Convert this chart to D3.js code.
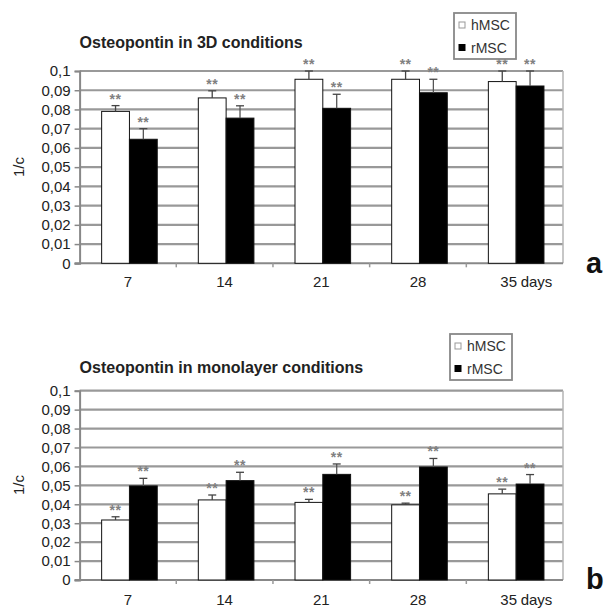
<!DOCTYPE html>
<meta charset="utf-8" />
<title>Osteopontin</title>
<style>
  body { margin: 0; background: #fff; }
  svg { display: block; font-family: "Liberation Sans", Arial, sans-serif; }
  .grid line { stroke: #999; stroke-width: 2.2px; }
  .tick-label { font-size: 15px; fill: #222; }
  .chart-title { font-size: 16px; font-weight: bold; fill: #222; }
  .stars { font-size: 14px; font-weight: bold; fill: #808080; letter-spacing: 0.5px; }
  .legend text { font-size: 14px; fill: #333; }
  .panel-letter { font-size: 29px; font-weight: bold; fill: #111; }
</style>
<body>
<svg width="606" height="608"></svg>
<script src="https://d3js.org/d3.v7.min.js"></script>
<script>
  const days = ["7", "14", "21", "28", "35"];
  const seriesNames = ["hMSC", "rMSC"];
  const yTicks = [0, 0.01, 0.02, 0.03, 0.04, 0.05, 0.06, 0.07, 0.08, 0.09, 0.1];

  // Osteopontin, 3D conditions (mean and upper error)
  const hMSC3D = [0.079, 0.086, 0.0957, 0.0957, 0.0945];
  const hMSC3DErr = [0.003, 0.0037, 0.0043, 0.0043, 0.0055];
  const rMSC3D = [0.0645, 0.0755, 0.0806, 0.0887, 0.0922];
  const rMSC3DErr = [0.0055, 0.0064, 0.0073, 0.007, 0.0078];

  // Osteopontin, monolayer conditions
  const hMSCMono = [0.0317, 0.0423, 0.041, 0.0397, 0.0455];
  const hMSCMonoErr = [0.0017, 0.0026, 0.0016, 0.0009, 0.0025];
  const rMSCMono = [0.0497, 0.0525, 0.0558, 0.0597, 0.0507];
  const rMSCMonoErr = [0.004, 0.0044, 0.0055, 0.0045, 0.005];

  const svg = d3.select("svg");
  const fmt = d3.formatLocale({ decimal: ",", thousands: ".", grouping: [3], currency: ["", ""] }).format(".2~f");

  const left = 79.6, right = 563;

  function drawChart(opt) {
    const g = svg.append("g");
    const y = d3.scaleLinear().domain([0, 0.1]).range([opt.bottom, opt.top]);
    const x = d3.scaleBand().domain(days).range([left, right]);
    const barW = 27.8;

    // gridlines
    g.append("g").attr("class", "grid")
      .selectAll("line").data(yTicks.slice(1)).join("line")
      .attr("x1", left).attr("x2", right)
      .attr("y1", d => y(d)).attr("y2", d => y(d));

    // right border of plot
    g.append("line")
      .attr("x1", right).attr("x2", right).attr("y1", y(0.1)).attr("y2", y(0))
      .attr("stroke", "#b5b5b5").attr("stroke-width", 1.5);

    // y axis
    const yAxis = d3.axisLeft(y).tickValues(yTicks).tickFormat(fmt).tickSize(5).tickPadding(4);
    const ya = g.append("g").attr("transform", `translate(${left},0)`).call(yAxis);
    ya.select(".domain").attr("stroke", "#888").attr("stroke-width", 2);
    ya.selectAll(".tick line").attr("stroke", "#888").attr("stroke-width", 1.5);
    ya.selectAll(".tick text").attr("class", "tick-label").attr("font-size", null).attr("font-family", null);

    // x axis line and category separators
    g.append("line")
      .attr("x1", left - 5).attr("x2", right).attr("y1", y(0)).attr("y2", y(0))
      .attr("stroke", "#888").attr("stroke-width", 2);
    g.selectAll(".sep").data(days.slice(1)).join("line")
      .attr("x1", d => x(d)).attr("x2", d => x(d))
      .attr("y1", y(0)).attr("y2", y(0) + 4)
      .attr("stroke", "#999").attr("stroke-width", 1.5);

    // x labels
    g.selectAll(".xl").data(days).join("text")
      .attr("class", "tick-label")
      .attr("x", d => x(d) + x.bandwidth() / 2 - (d === "35" ? 6 : 0))
      .attr("y", opt.labelY)
      .attr("text-anchor", "middle")
      .text(d => d);
    g.append("text").attr("class", "tick-label")
      .attr("x", x("35") + x.bandwidth() / 2 + 6).attr("y", opt.labelY)
      .text("days");

    // bars
    const series = [
      { name: "hMSC", vals: opt.h, errs: opt.hErr, fill: "#fff", off: -barW },
      { name: "rMSC", vals: opt.r, errs: opt.rErr, fill: "#000", off: 0 }
    ];
    series.forEach(s => {
      const cx = (d, i) => x(days[i]) + x.bandwidth() / 2 + 1.5 + s.off;
      g.selectAll(null).data(s.vals).join("rect")
        .attr("x", cx)
        .attr("y", d => y(d))
        .attr("width", barW)
        .attr("height", d => y(0) - y(d))
        .attr("fill", s.fill)
        .attr("stroke", "#111").attr("stroke-width", 1);
      // error whisker (upper)
      g.selectAll(null).data(s.vals).join("line")
        .attr("x1", (d, i) => cx(d, i) + barW / 2).attr("x2", (d, i) => cx(d, i) + barW / 2)
        .attr("y1", d => y(d)).attr("y2", (d, i) => y(d + s.errs[i]))
        .attr("stroke", s.name === "hMSC" ? "#444" : "#555").attr("stroke-width", 1.3);
      g.selectAll(null).data(s.vals).join("line")
        .attr("x1", (d, i) => cx(d, i) + barW / 2 - 4).attr("x2", (d, i) => cx(d, i) + barW / 2 + 4)
        .attr("y1", (d, i) => y(d + s.errs[i])).attr("y2", (d, i) => y(d + s.errs[i]))
        .attr("stroke", "#444").attr("stroke-width", 1.3);
      // significance stars
      g.selectAll(null).data(s.vals).join("text")
        .attr("class", "stars")
        .attr("x", (d, i) => cx(d, i) + barW / 2)
        .attr("y", (d, i) => y(d + s.errs[i]) - 2)
        .attr("text-anchor", "middle")
        .text("**");
    });

    // title
    g.append("text").attr("class", "chart-title")
      .attr("x", left).attr("y", opt.titleY).text(opt.title);

    // legend
    const lg = g.append("g").attr("class", "legend");
    lg.append("rect")
      .attr("x", opt.legend[0]).attr("y", opt.legend[1])
      .attr("width", 62).attr("height", 46)
      .attr("fill", "#fff").attr("stroke", "#888").attr("stroke-width", 1.8);
    seriesNames.forEach((n, i) => {
      const ly = opt.legend[1] + 12 + i * 22.5;
      lg.append("rect")
        .attr("x", opt.legend[0] + 5).attr("y", ly - 3)
        .attr("width", 6).attr("height", 6)
        .attr("fill", i === 0 ? "#fff" : "#000")
        .attr("stroke", i === 0 ? "#999" : "#000");
      lg.append("text")
        .attr("x", opt.legend[0] + 17).attr("y", ly + 5)
        .text(n);
    });

    // panel letter
    g.append("text").attr("class", "panel-letter")
      .attr("x", 586).attr("y", opt.letterY).text(opt.letter);
  }

  drawChart({
    top: 71, bottom: 263.3, labelY: 287, titleY: 48,
    title: "Osteopontin in 3D conditions",
    h: hMSC3D, hErr: hMSC3DErr, r: rMSC3D, rErr: rMSC3DErr,
    legend: [454, 13], letter: "a", letterY: 273
  });

  drawChart({
    top: 390.7, bottom: 580, labelY: 605, titleY: 373,
    title: "Osteopontin in monolayer conditions",
    h: hMSCMono, hErr: hMSCMonoErr, r: rMSCMono, rErr: rMSCMonoErr,
    legend: [450, 334], letter: "b", letterY: 589
  });

  // y axis titles
  [167, 485].forEach(cy => {
    svg.append("text")
      .attr("class", "tick-label")
      .attr("transform", `translate(24,${cy}) rotate(-90)`)
      .attr("text-anchor", "middle")
      .text("1/c");
  });
</script>
</body>
